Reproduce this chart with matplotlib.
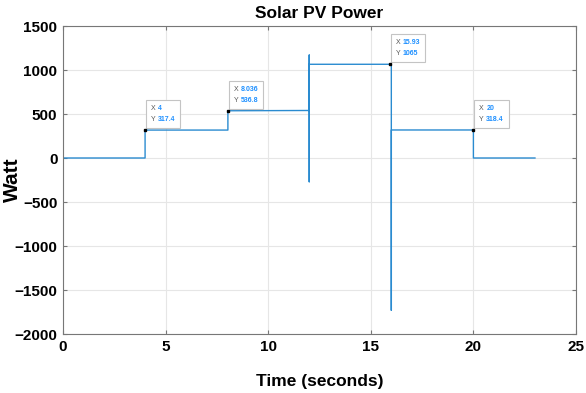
import numpy as np
import matplotlib.pyplot as plt
from matplotlib.offsetbox import TextArea, HPacker, VPacker, AnnotationBbox

plt.rcParams['font.family'] = ['Liberation Sans', 'DejaVu Sans']

# step-like power trace (seconds, watts)
time_s = [0, 4, 4, 8.036, 8.036, 12, 12, 12, 12, 15.93, 16, 16, 16, 20, 20, 23]
power_w = [0, 0, 317.4, 317.4, 536.8, 540, 1170, -270, 1065, 1065, 1065, -1730, 318.4, 318.4, 0, 0]

# data tips
tip_x = [4, 8.036, 15.93, 20]
tip_y = [317.4, 536.8, 1065, 318.4]
tip_xlabel = ['4', '8.036', '15.93', '20']
tip_ylabel = ['317.4', '536.8', '1065', '318.4']

fig = plt.figure(figsize=(5.86, 3.93), dpi=100)
ax = fig.add_axes([63 / 586, 1 - 334 / 393, (576 - 63) / 586, (334 - 26) / 393])

ax.plot(time_s, power_w, color='#2a8bd0', lw=1.0)


def tip_row(name, val):
    k = TextArea(name, textprops=dict(color='#555555', fontsize=5))
    v = TextArea(val, textprops=dict(color='#1e90ff', fontsize=5, fontweight='bold'))
    return HPacker(children=[k, v], pad=0, sep=2, align='baseline')


for x, y, xl, yl in zip(tip_x, tip_y, tip_xlabel, tip_ylabel):
    box = VPacker(children=[tip_row('X', xl), tip_row('Y', yl)], pad=0, sep=3, align='left')
    ab = AnnotationBbox(box, (x, y), xybox=(4, 5), xycoords='data',
                        boxcoords='offset points', box_alignment=(0, 0), pad=0.35,
                        bboxprops=dict(fc='white', ec='#c4c4c4', lw=0.8))
    ax.add_artist(ab)
    ax.plot(x, y, 's', color='black', ms=2, zorder=5)

ax.set_xlim(0, 25)
ax.set_ylim(-2000, 1500)
ax.set_xticks(np.arange(0, 26, 5))
ax.set_yticks(np.arange(-2000, 1501, 500))
ax.grid(True, color='#e6e6e6', lw=0.8)
ax.set_axisbelow(True)
ax.tick_params(direction='in', length=3, top=True, right=True, color='#777777',
               labelsize=11, pad=4)
for lab in ax.get_xticklabels() + ax.get_yticklabels():
    lab.set_fontweight('bold')
for s in ax.spines.values():
    s.set_color('#777777')

ax.set_title('Solar PV Power', fontsize=12.5, fontweight='bold', pad=6)
ax.set_xlabel('Time (seconds)', fontsize=12.5, fontweight='bold', labelpad=15)
ax.set_ylabel('Watt', fontsize=15, fontweight='bold')
ax.yaxis.set_label_coords(-0.08, 0.5)

fig.savefig('out.png', dpi=100)
